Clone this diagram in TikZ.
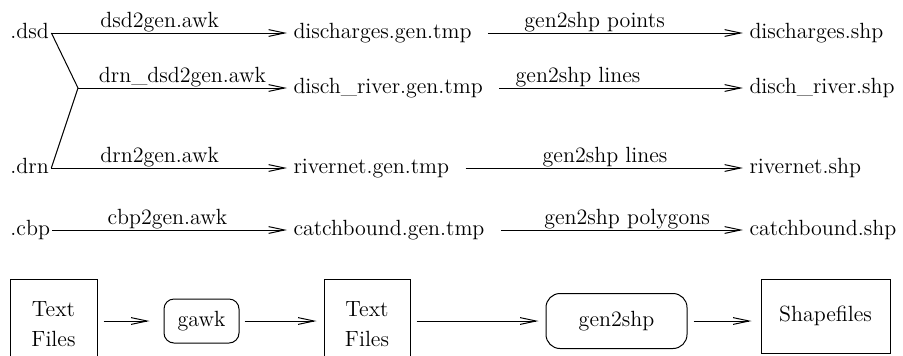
\documentclass[tikz,border=0pt]{standalone}
\usetikzlibrary{calc,arrows.meta}

\begin{document}
\begin{tikzpicture}[x=0.5pt,y=-0.5pt,line width=0.5pt,font=\fontsize{11}{15}\selectfont,
  ext/.style={anchor=base west,inner sep=1pt,text height=7pt,text depth=2pt},
  file/.style={anchor=base west,inner sep=3pt,text height=7pt,text depth=2pt},
  prog/.style={anchor=base,inner sep=0pt,yshift=2.75pt},
  conv/.style={-{Straight Barb[length=8pt,width=3.4pt]}},
  box/.style={draw,align=center,inner sep=0pt},
  rbox/.style={draw,inner sep=0pt}]
\useasboundingbox (0,0) rectangle (903,355);
\node (dsd) [ext] at (8,38) {.dsd};
\node (drn) [ext] at (8,173) {.drn};
\node (cbp) [ext] at (8,235) {.cbp};
\coordinate (fork) at (78,88);
\node (dischgen) [file] at (287,38) {discharges.gen.tmp};
\node (rivgen) [file] at (287,93) {disch\_river.gen.tmp};
\node (netgen) [file] at (287,173) {rivernet.gen.tmp};
\node (catgen) [file] at (287,235) {catchbound.gen.tmp};
\node (dischshp) [file] at (743,38) {discharges.shp};
\node (rivshp) [file] at (743,93) {disch\_river.shp};
\node (netshp) [file] at (743,173) {rivernet.shp};
\node (catshp) [file] at (743,235) {catchbound.shp};

\draw (dsd.east) -- (fork) -- (drn.east);
\draw [conv] (dsd.east) -- node[prog,pos=0.46] {dsd2gen.awk} (dischgen.west);
\draw [conv] (fork) -- node[prog,pos=0.5] {drn\_dsd2gen.awk} (rivgen.west);
\draw [conv] (drn.east) -- node[prog,pos=0.46] {drn2gen.awk} (netgen.west);
\draw [conv] (cbp.east) -- node[prog,pos=0.49] {cbp2gen.awk} (catgen.west);
\draw [conv,shorten <=5pt] (dischgen.east) -- node[prog,pos=0.44] {gen2shp points} (dischshp.west);
\draw [conv,shorten <=5pt] (rivgen.east) -- node[prog,pos=0.35] {gen2shp lines} (rivshp.west);
\draw [conv,shorten <=5pt] (netgen.east) -- node[prog,pos=0.52] {gen2shp lines} (netshp.west);
\draw [conv,shorten <=5pt] (catgen.east) -- node[prog,pos=0.54] {gen2shp polygons} (catshp.west);

\node (txt1) [box,minimum width=43.5pt,minimum height=45pt] at (53.5,324) {Text\\Files};
\node (gawk) [rbox,rounded corners=5pt,minimum width=37.5pt,minimum height=22pt] at (201.5,321) {gawk};
\node (txt2) [box,minimum width=43pt,minimum height=45pt] at (367,324) {Text\\Files};
\node (gen) [rbox,rounded corners=7pt,minimum width=70.5pt,minimum height=27.5pt] at (616.5,321) {gen2shp};
\node (shp) [box,minimum width=64.5pt,minimum height=37pt] at (825.5,316) {Shapefiles};
\draw [conv,shorten <=3pt,shorten >=7pt] (txt1.east |- gawk) -- (gawk);
\draw [conv,shorten <=2.5pt,shorten >=3.5pt] (gawk) -- (txt2.west |- gawk);
\draw [conv,shorten <=3pt,shorten >=3.5pt] (txt2.east |- gen) -- (gen);
\draw [conv,shorten <=3pt,shorten >=4.5pt] (gen) -- (shp.west |- gen);
\end{tikzpicture}
\end{document}
